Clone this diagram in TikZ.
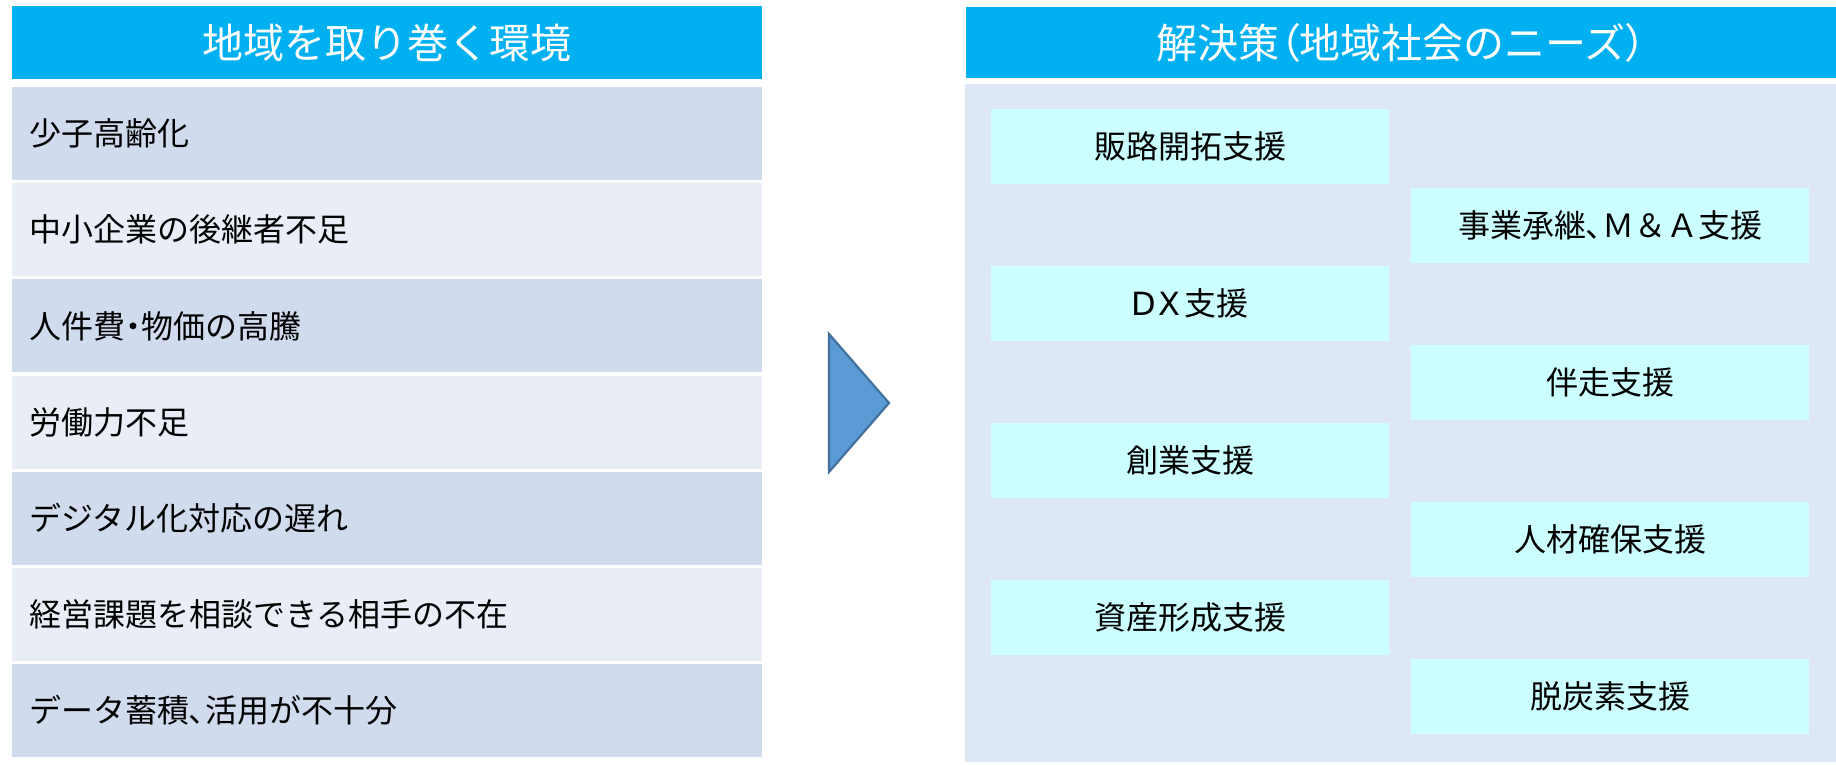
\documentclass[tikz,border=0pt]{standalone}
\usepackage{fontspec}
\setmainfont{Noto Sans CJK JP}
\newfontfamily\pfont[RawFeature=+palt]{Noto Sans CJK JP}
\newfontfamily\latinw{DejaVu Sans}
\newcommand{\pp}[1]{{\pfont #1}}
\definecolor{hdr}{HTML}{00B0F0}
\definecolor{rowA}{HTML}{D0DCEE}
\definecolor{rowB}{HTML}{E9EEF6}
\definecolor{panel}{HTML}{DEE8F4}
\definecolor{boxc}{HTML}{CCFFFF}
\definecolor{triF}{HTML}{5B9BD5}
\definecolor{triD}{HTML}{41719C}
\tikzset{
  hdrtext/.style={text=white, font=\fontsize{41}{41}\selectfont, inner sep=0pt},
  rowtext/.style={anchor=west, inner sep=0pt, font=\fontsize{32}{32}\selectfont},
  soltext/.style={inner sep=0pt, font=\fontsize{32}{32}\selectfont},
}
\begin{document}
\begin{tikzpicture}[x=1pt,y=-1pt]
\useasboundingbox (0,0) rectangle (1836,764);
% left header
\fill[hdr] (12,6) rectangle (762,79);
\node[hdrtext] (lh) at (387,42.5) {地域を取り巻く環境};
% rows
\foreach \i/\t in {0/少子高齢化,1/中小企業の後継者不足,2/人件費\pp{・}物価の高騰,3/労働力不足,4/デジタル化対応の遅れ,5/経営課題を相談できる相手の不在,6/データ蓄積\pp{、}活用が不十分}{
  \pgfmathsetmacro{\top}{87+\i*96.2}
  \pgfmathsetmacro{\bot}{\top+93}
  \pgfmathtruncatemacro{\odd}{mod(\i,2)}
  \ifnum\odd=0 \fill[rowA] (12,\top) rectangle (762,\bot); \else \fill[rowB] (12,\top) rectangle (762,\bot); \fi
  \node[rowtext] (r\i) at (29,\top+46.5) {\t};
}
% arrow triangle
\draw[fill=triF, draw=triD, line width=2.2pt, line join=miter] (829,334) -- (889,403) -- (829,472) -- cycle;
% right header and panel
\fill[hdr] (966,7) rectangle (1836,78);
\node[hdrtext] (rh) at (1401,42.5) {解決策\pp{（}地域社会のニーズ\pp{）}};
\fill[panel] (965,84) rectangle (1836,762);
% solution boxes
\foreach \i/\t in {0/販路開拓支援,1/事業承継\pp{、}Ｍ＆Ａ支援,2/{{\latinw D\hspace{2pt}X}\hspace{4pt}支援},3/伴走支援,4/創業支援,5/人材確保支援,6/資産形成支援,7/脱炭素支援}{
  \pgfmathsetmacro{\top}{109+\i*78.5}
  \pgfmathsetmacro{\bot}{\top+75}
  \pgfmathtruncatemacro{\odd}{mod(\i,2)}
  \ifnum\odd=0
    \fill[boxc] (991,\top) rectangle (1389,\bot);
    \node[soltext] (s\i) at (1190,\top+37.5) {\t};
  \else
    \fill[boxc] (1411,\top) rectangle (1809,\bot);
    \node[soltext] (s\i) at (1610,\top+37.5) {\t};
  \fi
}
\end{tikzpicture}
\end{document}
